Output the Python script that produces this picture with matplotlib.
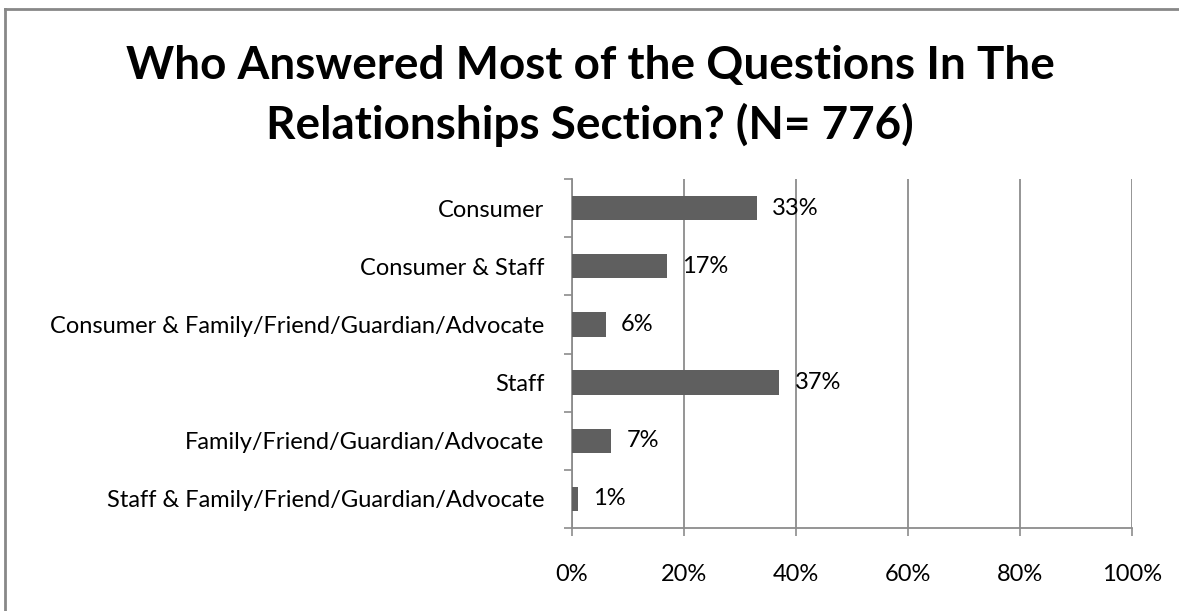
import matplotlib
matplotlib.use("Agg")
import matplotlib.pyplot as plt
from matplotlib.lines import Line2D

categories = [
    "Consumer",
    "Consumer & Staff",
    "Consumer & Family/Friend/Guardian/Advocate",
    "Staff",
    "Family/Friend/Guardian/Advocate",
    "Staff & Family/Friend/Guardian/Advocate",
]
percentages = [33, 17, 6, 37, 7, 1]
x_ticks = [0, 20, 40, 60, 80, 100]
x_tick_labels = ["0%", "20%", "40%", "60%", "80%", "100%"]
title = "Who Answered Most of the Questions In The\nRelationships Section? (N= 776)"

plt.rcParams["font.family"] = ["Lato", "DejaVu Sans"]

W, H = 1179, 611
fig = plt.figure(figsize=(W / 100, H / 100), dpi=100)

# plot area in pixel coordinates
left, right, top, bottom = 572, 1132, 179, 528
ax = fig.add_axes([left / W, 1 - bottom / H, (right - left) / W, (bottom - top) / H])

bar_color = "#5f5f5f"
grid_color = "#8c8c8c"
label_size = 17

y = list(range(len(categories)))
ax.barh(y, percentages, height=0.42, color=bar_color, zorder=3)
for yi, v in zip(y, percentages):
    ax.annotate(f"{v}%", xy=(v, yi), xytext=(11, 0), textcoords="offset points",
                ha="left", va="center", fontsize=label_size, color="#000000", zorder=4)

ax.set_xlim(0, 100)
ax.set_ylim(len(categories) - 0.5, -0.5)
ax.set_xticks(x_ticks)
ax.set_xticklabels(x_tick_labels, fontsize=label_size)
ax.set_yticks(y)
ax.set_yticklabels(categories, fontsize=label_size)

# minor ticks on the category axis mark boundaries between bars
ax.set_yticks([i - 0.5 for i in range(len(categories) + 1)], minor=True)
ax.tick_params(axis="y", which="major", length=0, pad=20)
ax.tick_params(axis="y", which="minor", length=6, width=1.2, color=grid_color)
ax.tick_params(axis="x", which="major", length=6, width=1.2, color=grid_color, pad=20,
               direction="out")

ax.xaxis.grid(True, color=grid_color, linewidth=1.3, zorder=0)
for s in ["top", "right"]:
    ax.spines[s].set_visible(False)
for s in ["left", "bottom"]:
    ax.spines[s].set_color(grid_color)
    ax.spines[s].set_linewidth(1.3)

fig.text(590 / W, 1 - 96 / H, title, ha="center", va="center", fontsize=33,
         fontweight="bold", linespacing=1.42)

# chart-area border (open at the right and bottom)
fig.add_artist(Line2D([5 / W, 1.0], [1 - 9 / H, 1 - 9 / H], transform=fig.transFigure,
                      color="#888888", linewidth=2))
fig.add_artist(Line2D([5 / W, 5 / W], [1 - 9 / H, 0.0], transform=fig.transFigure,
                      color="#888888", linewidth=2))

fig.savefig("out.png", dpi=100)
